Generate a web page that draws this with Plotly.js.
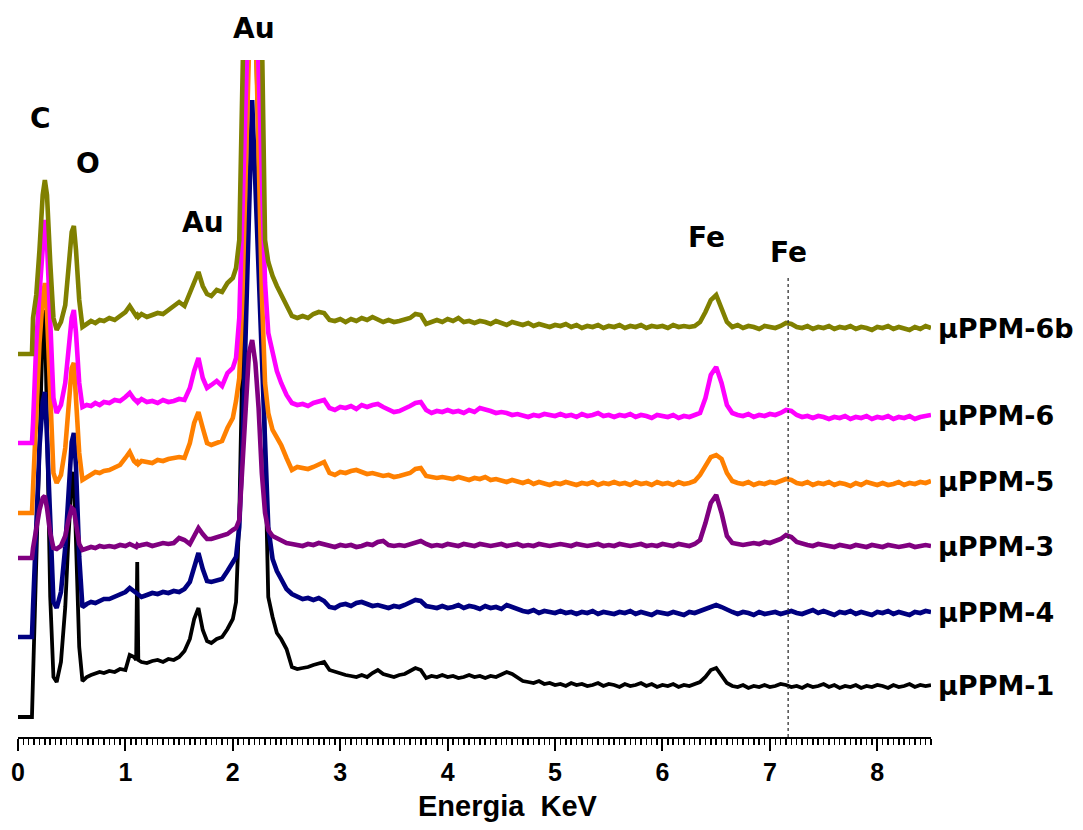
<!DOCTYPE html>
<html>
<head>
<meta charset="utf-8">
<script src="https://cdn.plot.ly/plotly-3.0.1.min.js"></script>
<style>html,body{margin:0;padding:0;background:#fff}#chart{width:1083px;height:830px}</style>
</head>
<body>
<div id="chart"></div>
<script>
// Energy channels (keV)
const energy = [
  0.00,0.13,0.14,0.17,0.20,0.23,0.25,0.27,0.30,0.33,0.36,0.40,0.44,0.47,0.50,0.52,0.54,0.57,0.60,0.64,0.68,0.72,0.76,0.80,
  0.85,0.90,0.95,1.00,1.04,1.08,1.10,1.11,1.12,1.15,1.20,1.25,1.30,1.35,1.40,1.45,1.50,1.55,1.60,1.64,1.68,1.72,1.76,1.80,1.85,1.90,1.95,2.00,
  2.03,2.06,2.09,2.12,2.15,2.18,2.21,2.24,2.27,2.30,2.33,2.37,2.41,2.45,2.50,
  2.55,2.60,2.65,2.70,2.75,2.80,2.85,2.90,2.95,3.00,
  3.05,3.10,3.15,3.20,3.25,3.30,3.35,3.40,3.45,3.50,
  3.55,3.60,3.65,3.70,3.75,3.80,3.85,3.90,3.95,4.00,
  4.05,4.10,4.15,4.20,4.25,4.30,4.35,4.40,4.45,4.50,
  4.55,4.60,4.65,4.70,4.75,4.80,4.85,4.90,4.95,5.00,
  5.05,5.10,5.15,5.20,5.25,5.30,5.35,5.40,5.45,5.50,
  5.55,5.60,5.65,5.70,5.75,5.80,5.85,5.90,5.95,6.00,
  6.05,6.10,6.15,6.20,6.25,6.30,6.35,6.40,6.45,6.50,
  6.55,6.60,6.65,6.70,6.75,6.80,6.85,6.90,6.95,7.00,
  7.05,7.10,7.15,7.20,7.25,7.30,7.35,7.40,7.45,7.50,
  7.55,7.60,7.65,7.70,7.75,7.80,7.85,7.90,7.95,8.00,
  8.05,8.10,8.15,8.20,8.25,8.30,8.35,8.40,8.45,8.50
];

// Counts (arbitrary units) of each sample, relative to its own baseline
const ppm1 = [
  0,0,40,160,290,385,407,300,120,40,35,55,110,180,235,245,180,70,36,40,42,44,45,44,
  46,45,48,47,62,60,57,155,57,55,54,56,57,55,58,57,60,66,78,98,109,87,76,74,78,80,88,98,
  115,200,360,510,660,850,700,550,390,230,120,100,84,78,68,
  50,48,49,50,52,54,55,47,45,43,
  42,41,40,42,40,44,47,43,41,40,
  42,43,46,49,47,39,41,40,42,40,
  41,39,40,42,40,41,39,41,40,42,
  45,43,39,36,35,34,36,33,34,32,
  33,31,34,32,33,31,32,34,31,33,
  32,30,33,31,32,34,31,33,30,32,
  31,33,30,32,31,33,35,40,47,49,
  42,34,31,30,32,29,31,30,32,30,
  31,33,32,30,31,29,32,30,31,33,
  30,32,29,31,30,32,29,31,30,32,
  31,29,32,30,31,33,30,32,31,32
];
const ppm4 = [
  0,0,30,120,190,235,245,200,100,35,29,45,90,150,195,204,170,80,30,33,35,34,36,38,
  38,40,42,45,49,46,44,43,42,40,42,44,43,45,44,46,45,48,55,70,84,68,56,55,57,58,66,75,
  80,110,190,305,420,537,452,367,283,195,110,78,66,58,48,
  43,40,38,39,37,39,36,30,29,32,
  33,31,34,35,33,31,32,30,29,31,
  30,32,35,37,36,31,30,29,31,29,
  30,32,29,31,30,28,31,29,30,28,
  32,30,27,26,25,27,24,26,25,24,
  26,24,25,23,25,24,26,23,25,24,
  23,25,24,26,23,25,24,22,25,24,
  23,25,24,22,25,24,26,28,31,32,
  30,27,25,23,25,24,22,25,23,24,
  25,23,24,26,24,23,25,27,24,26,
  24,22,25,24,26,23,25,24,22,25,
  24,26,23,25,24,22,25,24,26,25
];
const ppm3 = [
  0,0,10,30,48,60,62,50,25,10,9,12,22,38,50,48,35,14,8,10,11,10,12,11,
  12,11,13,12,14,12,11,13,12,13,14,12,13,15,14,15,20,18,14,22,30,24,19,19,21,22,24,28,
  30,38,90,160,205,218,195,150,85,45,28,22,20,17,15,
  14,13,12,14,13,15,14,12,11,13,
  12,13,11,12,14,13,16,17,13,12,
  13,12,14,16,17,14,12,13,12,14,
  13,12,14,13,12,14,13,12,13,14,
  12,13,14,12,13,12,14,13,12,13,
  14,13,12,14,13,12,13,14,12,13,
  12,14,13,12,13,14,12,13,12,14,
  13,12,14,13,12,14,18,35,55,63,
  45,22,15,14,13,14,15,14,16,15,
  17,19,23,21,16,14,13,12,14,13,
  12,11,13,12,11,13,12,11,13,12,
  11,13,12,11,12,13,11,12,13,12
];
const ppm5 = [
  0,0,25,110,170,215,230,200,110,40,30,38,65,110,145,150,120,60,33,36,38,41,40,42,
  43,45,48,55,61,52,50,51,49,52,51,50,53,52,54,55,56,55,70,90,101,85,70,68,70,72,85,95,
  112,135,220,380,520,580,500,360,220,130,100,83,76,68,55,
  43,46,45,44,46,48,51,40,38,41,
  40,42,43,41,39,40,38,37,38,36,
  37,38,40,44,45,37,36,35,36,35,
  34,36,35,33,35,34,36,33,34,32,
  31,33,31,30,32,29,31,30,28,30,
  29,31,30,28,30,29,31,28,30,29,
  31,29,30,28,31,29,30,28,31,29,
  30,28,31,29,30,32,38,48,56,58,
  54,40,32,30,29,31,28,30,29,31,
  30,32,34,33,30,29,31,28,30,29,
  31,28,30,29,27,30,28,31,29,28,
  30,28,29,31,28,30,29,31,30,32
];
const ppm6 = [
  0,0,20,100,150,205,223,200,120,45,30,38,60,95,125,133,110,60,36,38,37,40,38,41,
  40,43,42,46,50,44,42,44,41,44,41,42,40,43,41,42,44,43,55,72,85,65,55,58,62,57,70,75,
  85,125,230,350,500,560,480,370,250,160,110,90,72,60,48,
  40,38,39,37,40,42,43,35,33,36,
  35,37,34,38,36,38,39,36,33,31,
  32,34,37,40,41,33,30,32,31,33,
  31,32,30,33,31,35,34,32,30,31,
  30,28,29,27,26,28,27,29,28,27,
  29,27,28,26,29,27,28,30,27,28,
  26,28,27,29,26,28,27,25,28,27,
  26,28,25,27,26,28,30,45,68,76,
  60,38,30,28,27,29,26,28,27,29,
  28,30,33,32,28,26,27,25,27,26,
  24,26,25,27,24,26,25,27,24,26,
  25,27,24,26,25,27,24,26,27,28
];
const ppm6b = [
  0,0,36,59,104,159,174,159,92,36,24,32,49,82,122,128,104,54,27,30,33,31,34,33,
  36,34,38,42,48,41,38,39,37,40,37,39,41,40,44,48,52,48,62,72,82,68,60,58,64,62,71,76,
  86,114,274,560,700,760,700,540,286,114,92,78,68,60,50,
  38,36,38,36,40,42,41,34,33,35,
  32,35,33,36,34,37,35,32,34,32,
  33,34,36,40,39,30,32,34,32,35,
  33,36,32,33,31,33,32,30,33,31,
  29,32,30,29,31,28,30,29,27,29,
  28,30,27,29,26,28,27,29,26,28,
  27,29,26,28,27,29,26,28,27,28,
  26,29,27,28,27,28,32,42,54,59,
  46,32,27,29,26,28,27,25,28,27,
  26,28,31,30,27,26,28,25,27,26,
  28,25,27,26,28,25,27,26,24,27,
  26,28,25,27,26,24,27,25,28,26
];

const sampleNames = ['μPPM-1','μPPM-4','μPPM-3','μPPM-5','μPPM-6','μPPM-6b'];
const series = [ppm1, ppm4, ppm3, ppm5, ppm6, ppm6b];
// vertical stacking offsets of the spectra
const offsets = [20, 100, 179, 224, 294, 383];
const peakNames = ['C','O','Au','Au','Fe','Fe'];
const feKbetaEnergy = 7.17;

const colors = ['#000000','#000080','#800080','#FF8000','#FF00FF','#808000'];
const FONT = 'Liberation Sans, Arial, sans-serif';
const LABEL_FONT = 'DejaVu Sans, Liberation Sans, Arial, sans-serif';
const YMAX = 677;

const traces = series.map((s, i) => ({
  x: energy,
  y: s.map(v => v + offsets[i]),
  type: 'scatter',
  mode: 'lines',
  name: sampleNames[i],
  line: {color: colors[i], width: i === 0 ? 3.8 : 4.6},
  hoverinfo: 'skip'
}));

// label placements (x in keV, y in plot units)
const peakPos = [[0.205,619],[0.65,574],[1.72,514],[2.2,709],[6.41,499],[7.17,484]];
const annotations = peakNames.map((t, i) => ({
  text: t, x: peakPos[i][0], y: peakPos[i][1] / YMAX, xref: 'x', yref: 'paper',
  showarrow: false, xanchor: 'center', yanchor: 'middle',
  font: {family: LABEL_FONT, size: 28, color: '#000', weight: 700}
}));
series.forEach((s, i) => {
  annotations.push({
    text: sampleNames[i], x: 1.0055, y: (offsets[i] + s[s.length - 1]) / YMAX,
    xref: 'paper', yref: 'paper', showarrow: false, xanchor: 'left', yanchor: 'middle',
    font: {family: LABEL_FONT, size: 27, color: '#000', weight: 700}
  });
});
annotations.push({
  text: 'Energia\u00a0 KeV', x: 4.56, y: -0.102, xref: 'x', yref: 'paper',
  showarrow: false, xanchor: 'center', yanchor: 'middle',
  font: {family: FONT, size: 29, color: '#000', weight: 700}
});

const layout = {
  width: 1083, height: 830,
  margin: {l: 18, r: 152, t: 60, b: 93, pad: 0},
  paper_bgcolor: '#ffffff', plot_bgcolor: '#ffffff',
  showlegend: false,
  xaxis: {
    range: [0, 8.5], tick0: 0, dtick: 1,
    showline: true, linecolor: '#000', linewidth: 2,
    ticks: 'outside', ticklen: 12, tickwidth: 2, tickcolor: '#000',
    showgrid: false, zeroline: false,
    tickfont: {family: FONT, size: 25, color: '#000', weight: 700},
    minor: {ticks: 'outside', ticklen: 6, tickwidth: 1.5, tickcolor: '#000', dtick: 0.05, tick0: 0, showgrid: false}
  },
  yaxis: {range: [0, YMAX], visible: false, showgrid: false, zeroline: false},
  annotations: annotations,
  shapes: [{
    type: 'line', xref: 'x', yref: 'y', x0: feKbetaEnergy, x1: feKbetaEnergy, y0: 0, y1: 459,
    line: {color: '#333', width: 1.3, dash: 'dot'}, layer: 'above'
  }]
};

Plotly.newPlot('chart', traces, layout, {staticPlot: true, displayModeBar: false});
</script>
</body>
</html>
